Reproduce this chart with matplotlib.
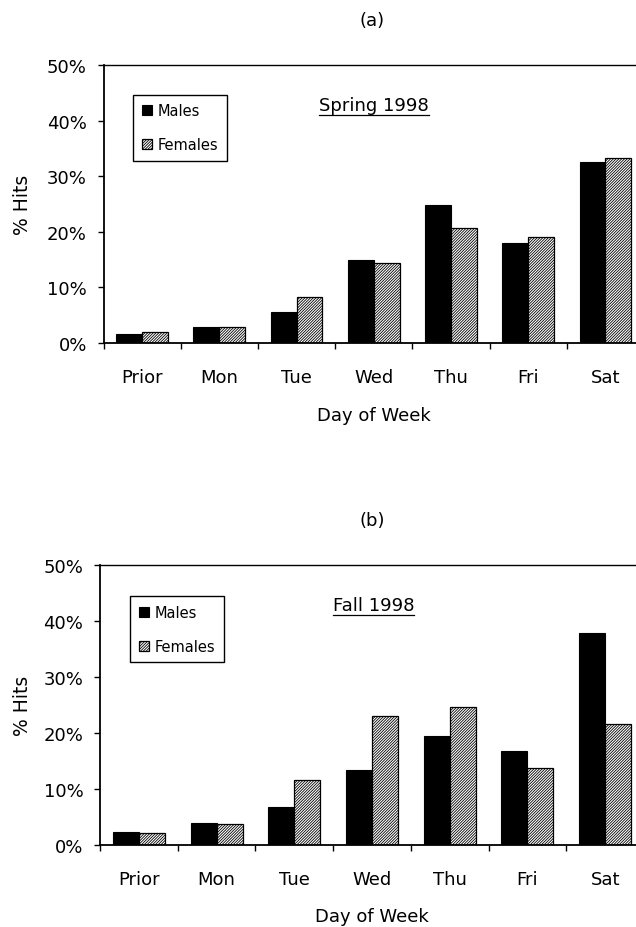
import matplotlib
matplotlib.use("Agg")
import matplotlib.pyplot as plt
import numpy as np
from matplotlib.ticker import FuncFormatter, FixedLocator
from matplotlib.lines import Line2D

days = ["Prior", "Mon", "Tue", "Wed", "Thu", "Fri", "Sat"]
spring_males = [1.6, 2.8, 5.6, 15.0, 24.8, 18.0, 32.6]
spring_females = [1.9, 2.8, 8.3, 14.3, 20.7, 19.0, 33.3]
fall_males = [2.4, 3.9, 6.7, 13.4, 19.4, 16.7, 37.9]
fall_females = [2.1, 3.7, 11.6, 23.0, 24.6, 13.7, 21.6]
yticks = [0, 10, 20, 30, 40, 50]
series_labels = ["Males", "Females"]
panel_titles = ["(a)", "(b)"]
season_labels = ["Spring 1998", "Fall 1998"]

plt.rcParams['font.family'] = ['DejaVu Sans']
plt.rcParams['hatch.linewidth'] = 0.6

W, H = 636, 928
fig = plt.figure(figsize=(W / 100, H / 100), dpi=100)

# axes boxes in pixels: left, top, right, bottom
boxes = [(103.5, 66, 644, 344), (100, 566, 644, 846)]
title_y = [21, 521]
datasets = [(spring_males, spring_females), (fall_males, fall_females)]

x = np.arange(len(days))
bw = 0.335
under = []
for i, ((l, t, r, b), (m, f)) in enumerate(zip(boxes, datasets)):
    ax = fig.add_axes([l / W, 1 - b / H, (r - l) / W, (b - t) / H])
    ax.bar(x - bw / 2, m, bw, color='black', edgecolor='black', linewidth=0.8,
           label=series_labels[0])
    ax.bar(x + bw / 2, f, bw, color='white', edgecolor='black', linewidth=0.9,
           hatch='////////////', label=series_labels[1])
    ax.set_xlim(-0.5, len(days) - 0.5)
    ax.set_ylim(0, 50)
    ax.yaxis.set_major_locator(FixedLocator(yticks))
    ax.yaxis.set_major_formatter(FuncFormatter(lambda v, p: f"{v:.0f}%"))
    ax.xaxis.set_major_locator(FixedLocator(np.arange(-0.5, len(days) + 0.5, 1)))
    ax.xaxis.set_major_formatter(FuncFormatter(lambda v, p: ""))
    ax.xaxis.set_minor_locator(FixedLocator(x))
    ax.set_xticks(x, days, minor=True)
    ax.tick_params(axis='x', which='major', direction='out', length=4, width=1.0)
    ax.tick_params(axis='x', which='minor', length=0, pad=18, labelsize=13)
    ax.tick_params(axis='y', direction='out', length=4.5, width=1.0, pad=7.5,
                   labelsize=13)
    for s in ['left', 'bottom']:
        ax.spines[s].set_linewidth(1.3)
    ax.spines['top'].set_linewidth(1.0)
    ax.spines['right'].set_linewidth(1.0)
    ax.set_xlabel("Day of Week", fontsize=13)
    ax.xaxis.set_label_coords(0.5, -(63 if i == 0 else 62) / (b - t))
    fig.text(22 / W, 1 - ((t + b) / 2) / H, "% Hits", rotation=90,
             ha='center', va='center', fontsize=13.5)
    fig.text(372 / W, 1 - title_y[i] / H, panel_titles[i], ha='center',
             va='center', fontsize=13)
    lx = ((133 if i == 0 else 130) - l) / (r - l)
    ly = (b - (95.7 if i == 0 else 597)) / (b - t)
    leg = ax.legend(loc='upper left', bbox_to_anchor=(lx, ly), borderaxespad=0,
                    fontsize=10.5, handlelength=0.7, handleheight=0.7,
                    handletextpad=0.4, labelspacing=1.3, borderpad=0.6,
                    fancybox=False, framealpha=1, edgecolor='black')
    leg.get_frame().set_linewidth(1.0)
    base = (b - (111 if i == 0 else 611)) / (b - t)
    st = ax.text(0.5 if i == 0 else 0.503, base, season_labels[i],
                 transform=ax.transAxes, ha='center', va='baseline', fontsize=13)
    under.append(st)

fig.canvas.draw()
for st in under:
    bb = st.get_window_extent()
    x0, x1 = bb.x0, bb.x1
    basey_disp = st.get_transform().transform(st.get_position())[1]
    yline = basey_disp - 5
    fig.add_artist(Line2D([x0 / W, x1 / W], [yline / H, yline / H],
                          transform=fig.transFigure, color='black', linewidth=0.9))

fig.savefig("out.png", dpi=100)
